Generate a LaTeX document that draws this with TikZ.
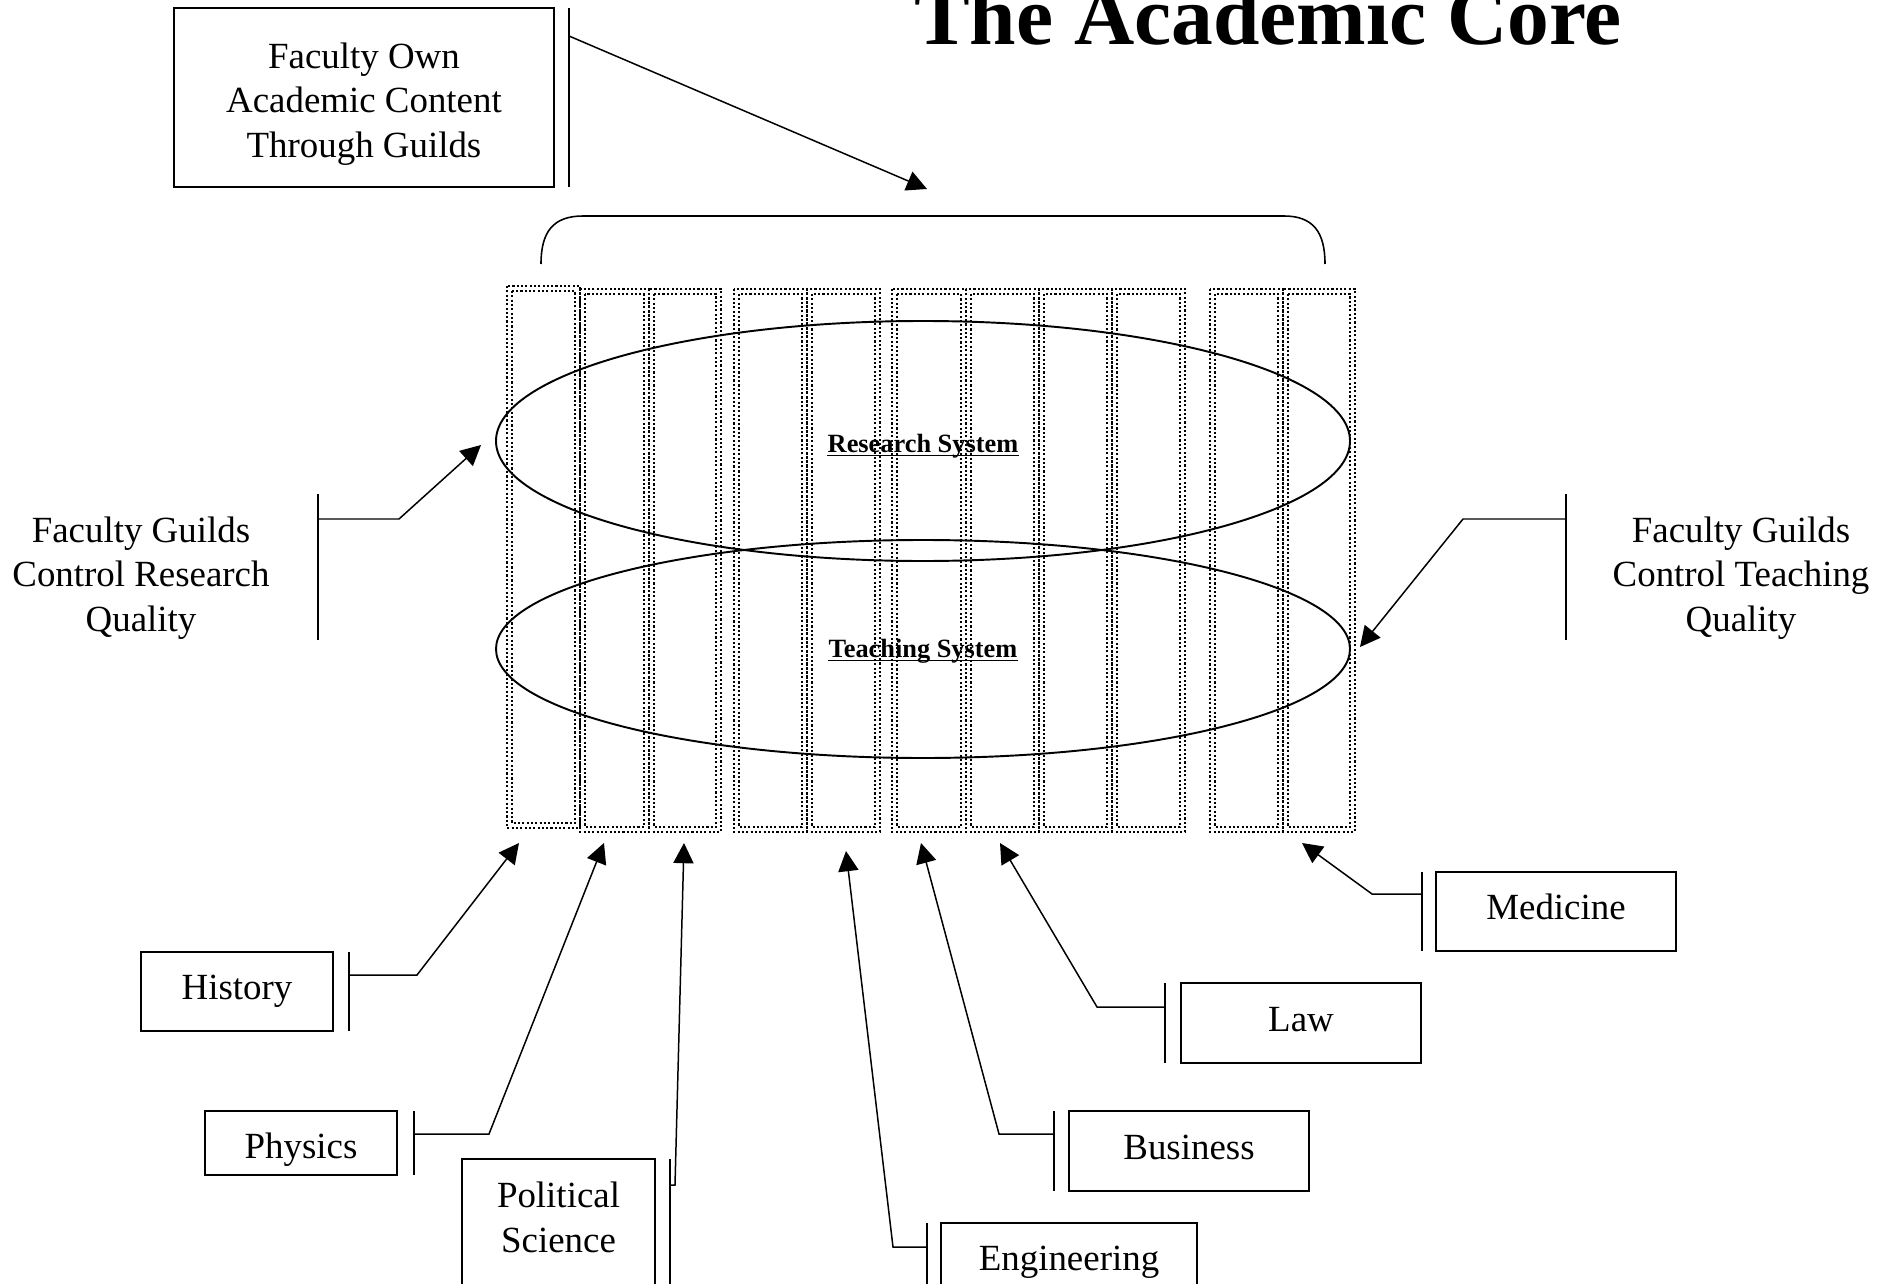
\documentclass[tikz,border=0pt]{standalone}
\usepackage{fontspec}
\setmainfont{Liberation Serif}
\usetikzlibrary{arrows.meta}
\newcommand\bodyfnt{\fontsize{21}{25.5}\selectfont}
\begin{document}
\begin{tikzpicture}[x=0.02cm,y=-0.02cm,
  box/.style={draw, line width=0.85pt, inner sep=0pt, font=\bodyfnt},
  lbl/.style={inner sep=0pt, font=\bodyfnt, align=center},
  onel/.style={text height=13.9pt, text depth=4.6pt},
  conn/.style={line width=0.85pt, -{Triangle[length=11.5pt,width=11.5pt]}},
  bar/.style={line width=0.85pt},
  dotline/.style={line width=1.2pt, dash pattern=on 1.2pt off 1.25pt},
  ell/.style={line width=1.1pt},
  sysl/.style={inner sep=0pt, font=\fontsize{15}{18}\selectfont\bfseries},
  uline/.style={line width=1.1pt}]
\clip (0,0) rectangle (1880,1284);
\fill[white] (0,0) rectangle (1880,1284);
% columns
\foreach \a/\b/\t/\bo in {507/580/286/828,580/649/289/832,649/721/289/832,734/807/289/832,807/880/289/832,892/966/289/832,966/1039/289/832,1039/1112/289/832,1112/1185/289/832,1210/1283/289/832,1283/1355/289/832}{
  \draw[dotline] (\a,\t) rectangle (\b,\bo);
  \draw[dotline] (\a+5,\t+5) rectangle (\b-5,\bo-5);
}
% ellipses
\draw[ell] (923,441) ellipse [x radius=427, y radius=120];
\draw[ell] (923,649) ellipse [x radius=427, y radius=109];
\node[sysl, anchor=base] (res) at (923,452) {Research System};
\draw[uline] ([yshift=-2pt]res.base west) -- ([yshift=-2pt]res.base east);
\node[sysl, anchor=base] (tea) at (923,657) {Teaching System};
\draw[uline] ([yshift=-2pt]tea.base west) -- ([yshift=-2pt]tea.base east);
% title
\node[anchor=base, inner sep=0pt, font=\fontsize{47.5}{55}\selectfont\bfseries] (title) at (1268,45) {The Academic Core};
% faculty own
\node[box, minimum width=7.6cm, minimum height=3.58cm] (own) at (364,97.5) {};
\node[lbl] (ownl) at (364,104) {Faculty Own\\Academic Content\\Through Guilds};
\draw[bar] (569,8) -- (569,187);
\coordinate (ownS) at (569,36);
\coordinate (ownT) at (927,189);
\draw[conn] (ownS) -- (ownT);
% brace
\draw[line width=0.9pt] (541,264) .. controls (541,232) and (553,216) .. (583,216) -- (1284,216) .. controls (1313,216) and (1325,232) .. (1325,264);
% side labels
\node[lbl] (rq) at (141,578) {Faculty Guilds\\Control Research\\Quality};
\draw[bar] (318,494) -- (318,640);
\coordinate (rqS) at (318,519);
\coordinate (rqT) at (481,445);
\draw[conn] (rqS) -- (399,519) -- (rqT);
\node[lbl] (tq) at (1741,578) {Faculty Guilds\\Control Teaching\\Quality};
\draw[bar] (1566,494) -- (1566,640);
\coordinate (tqS) at (1566,519);
\coordinate (tqT) at (1360,647);
\draw[conn] (tqS) -- (1463,519) -- (tqT);
% departments
\node[box, onel, minimum width=3.84cm, minimum height=1.58cm] (hist) at (237,991.5) {History};
\draw[bar] (349,952) -- (349,1031);
\coordinate (histS) at (349,975);
\coordinate (histT) at (519,843);
\draw[conn] (histS) -- (417,975) -- (histT);

\node[box, text height=21.9pt, text depth=4.6pt, minimum width=3.84cm, minimum height=1.28cm] (phys) at (301,1143) {Physics};
\draw[bar] (414,1111) -- (414,1175);
\coordinate (physS) at (414,1134);
\coordinate (physT) at (604,843);
\draw[conn] (physS) -- (489,1134) -- (physT);

\draw[line width=0.85pt] (462,1159) rectangle (655,1330);
\node[lbl] (pol) at (558.5,1217) {Political\\Science};
\draw[bar] (670,1159) -- (670,1330);
\coordinate (polS) at (670,1185);
\coordinate (polT) at (684,843);
\draw[conn] (polS) -- (675,1185) -- (polT);

\draw[line width=0.85pt] (941,1223) rectangle (1197,1330);
\node[lbl, onel] (eng) at (1069,1262) {Engineering};
\draw[bar] (927,1223) -- (927,1330);
\coordinate (engS) at (927,1247);
\coordinate (engT) at (846,851);
\draw[conn] (engS) -- (893,1247) -- (engT);

\node[box, onel, minimum width=4.8cm, minimum height=1.6cm] (bus) at (1189,1151) {Business};
\draw[bar] (1054,1111) -- (1054,1191);
\coordinate (busS) at (1054,1134);
\coordinate (busT) at (921,843);
\draw[conn] (busS) -- (999,1134) -- (busT);

\node[box, onel, minimum width=4.8cm, minimum height=1.6cm] (law) at (1301,1023) {Law};
\draw[bar] (1165,983) -- (1165,1063);
\coordinate (lawS) at (1165,1007);
\coordinate (lawT) at (1000,843);
\draw[conn] (lawS) -- (1097,1007) -- (lawT);

\node[box, onel, minimum width=4.8cm, minimum height=1.58cm] (med) at (1556,911.5) {Medicine};
\draw[bar] (1422,872) -- (1422,951);
\coordinate (medS) at (1422,894);
\coordinate (medT) at (1302,843);
\draw[conn] (medS) -- (1372,894) -- (medT);
\end{tikzpicture}
\end{document}
